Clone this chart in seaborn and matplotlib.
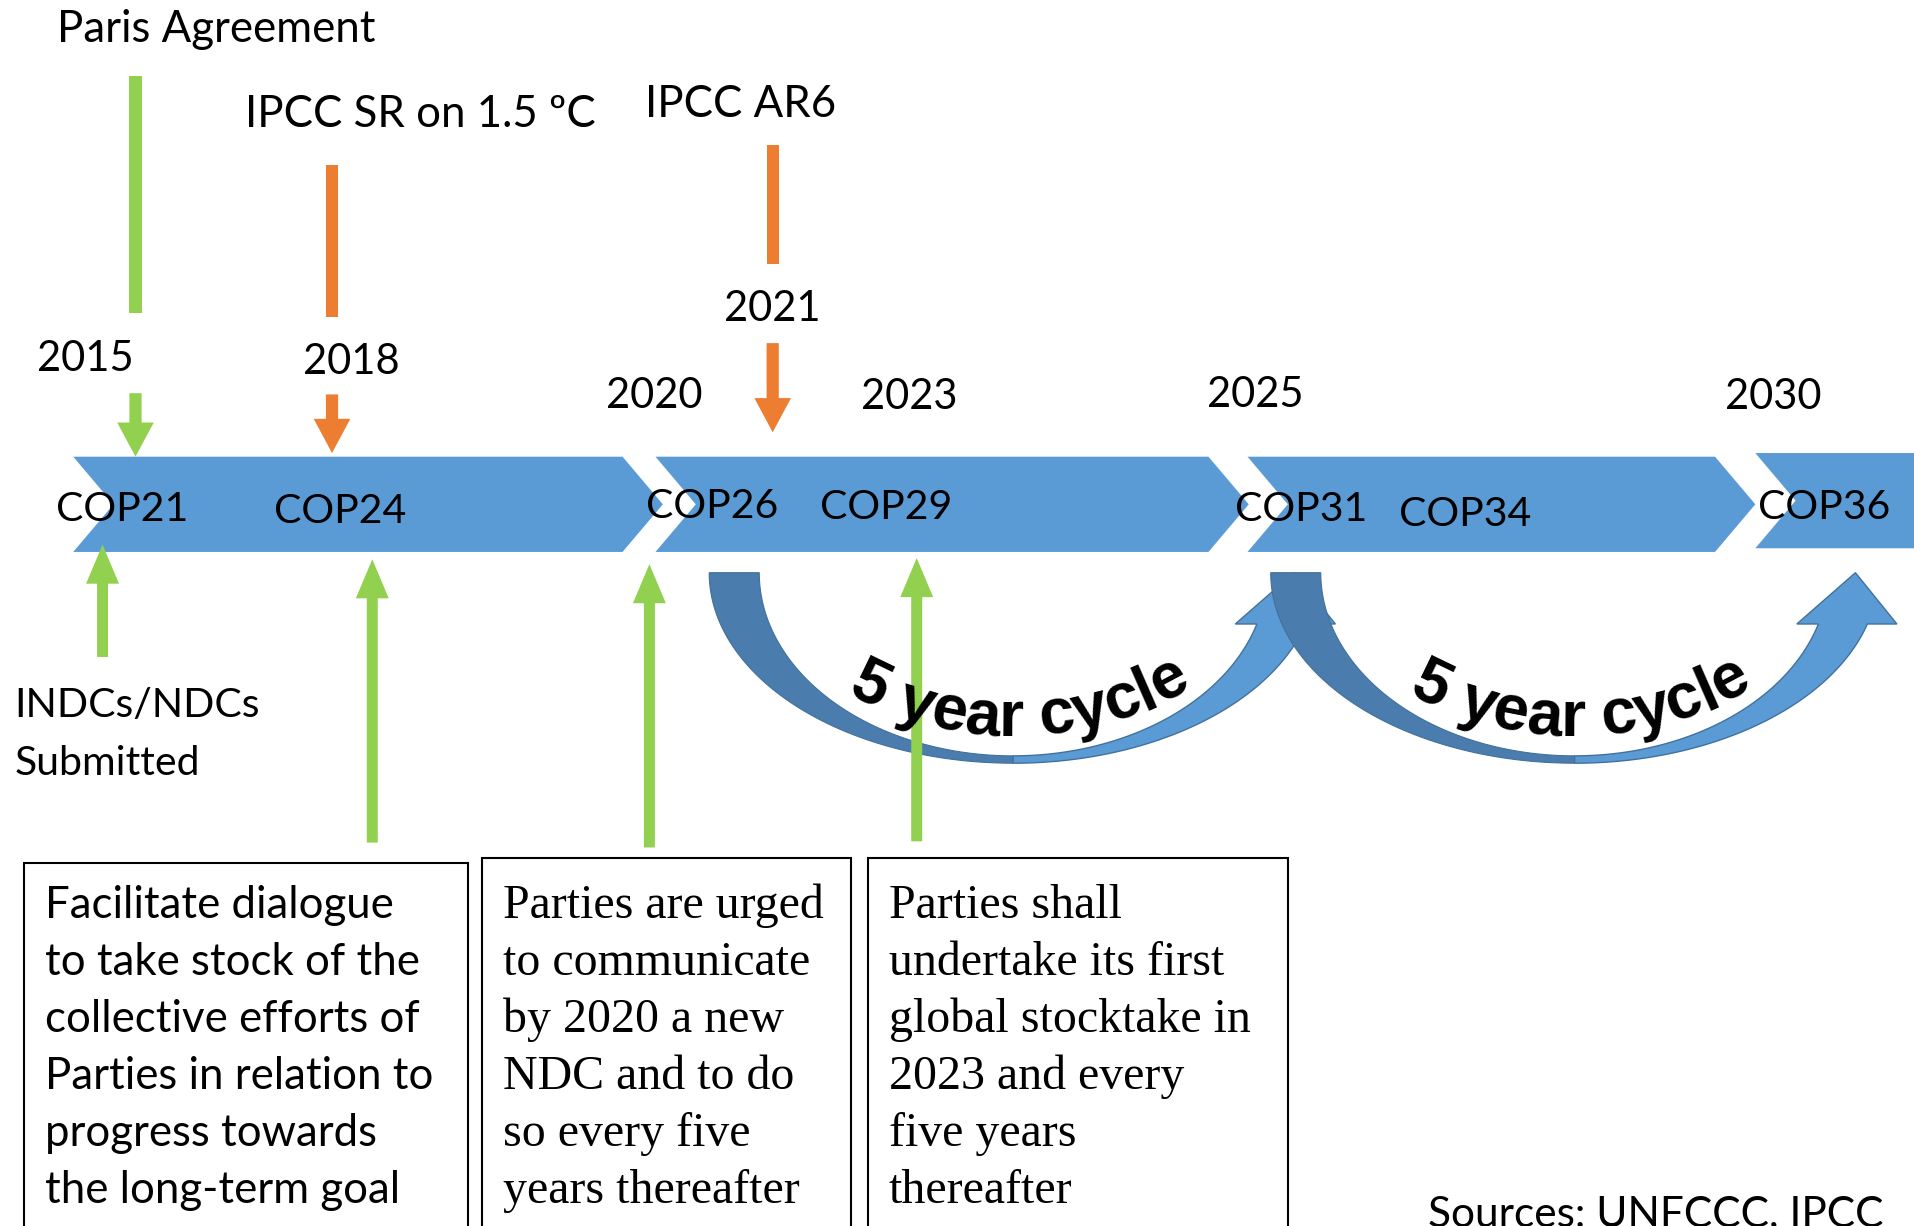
import numpy as np
import matplotlib
matplotlib.use("Agg")
import matplotlib.pyplot as plt
import seaborn as sns
from matplotlib.patches import Polygon, Rectangle
from matplotlib.font_manager import FontProperties, findfont, get_font

sns.set_theme(style="white")
plt.rcParams["font.family"] = ["Lato", "DejaVu Sans"]

# ---- content ----
event_names = ["Paris Agreement", "IPCC SR on 1.5 ºC", "IPCC AR6"]
event_colors = ["#92D050", "#ED7D31", "#ED7D31"]
year_labels = ["2015", "2018", "2020", "2021", "2023", "2025", "2030"]
cop_labels = ["COP21", "COP24", "COP26", "COP29", "COP31", "COP34", "COP36"]
ndc_label = ["INDCs/NDCs", "Submitted"]
note_gst = ["Facilitate dialogue", "to take stock of the", "collective efforts of",
            "Parties in relation to", "progress towards", "the long-term goal"]
note_ndc = ["Parties are urged", "to communicate", "by 2020 a new",
            "NDC and to do", "so every five", "years thereafter"]
note_stocktake = ["Parties shall", "undertake its first", "global stocktake in",
                  "2023 and every", "five years", "thereafter"]
cycle_label = "5 year cycle"
source_label = "Sources: UNFCCC, IPCC"

# ---- layout (canvas units, y downwards) ----
W, H = 1568, 1004
BLUE = "#5B9BD5"
DARK = "#4A7CAD"
GREEN = "#92D050"

event_pos = [(177, 34), (344, 104), (607, 96)]
event_lines = [(111, 62, 256), (272, 135, 260), (633, 119, 216)]
event_heads = [(111, 322, 374), (272, 323, 371), (633, 281, 354)]
year_pos = [(70, 304), (288, 306), (536, 334), (633, 263), (745, 335), (1028, 333), (1453, 335)]
cop_pos = [(100, 427), (279, 428), (583, 424), (726, 425), (1066, 427), (1200, 431), (1494, 425)]
chevrons = [(60, 510, 374, 452, True), (537, 990, 374, 452, True),
            (1022, 1405, 374, 452, True), (1438, 1600, 371, 449, False)]
up_arrows = [(84, 538, 446), (305, 690, 458), (532, 694, 462), (751, 689, 457)]
boxes = [(20, 707, 383), (395, 703, 697), (711, 703, 1055)]
cycle_centers = [830, 1290]

fig = plt.figure(figsize=(19.14, 12.26), dpi=100)
ax = fig.add_axes([0, 0, 1, 1])
ax.set_xlim(0, W)
ax.set_ylim(H, 0)
ax.axis("off")

# chevrons
notch = 33
for xl, xr, yt, yb, tip in chevrons:
    ym = (yt + yb) / 2
    pts = [(xl, yt), (xr, yt)]
    pts += [(xr + notch, ym), (xr, yb)] if tip else [(xr, yb)]
    pts += [(xl, yb), (xl + notch, ym)]
    ax.add_patch(Polygon(pts, closed=True, fc=BLUE, ec="none", zorder=1))

# curved "5 year cycle" arrows
y0 = 469
ao, bo, ai, bi = 249, 156, 208, 150
for cx in cycle_centers:
    t = np.linspace(np.pi, np.pi / 2, 80)
    outer = np.c_[cx + ao * np.cos(t), y0 + bo * np.sin(t)]
    inner = np.c_[cx + ai * np.cos(t[::-1]), y0 + bi * np.sin(t[::-1])]
    ax.add_patch(Polygon(np.r_[outer, inner], closed=True, fc=DARK, ec="#41719C",
                         lw=0.8, zorder=2))
    to = np.linspace(np.pi / 2, np.arcsin(42 / bo), 80)
    ti = np.linspace(np.arcsin(42 / bi), np.pi / 2, 80)
    outer = np.c_[cx + ao * np.cos(to), y0 + bo * np.sin(to)]
    inner = np.c_[cx + ai * np.cos(ti), y0 + bi * np.sin(ti)]
    head = np.array([[cx + 264, y0 + 42], [cx + 230, y0], [cx + 182, y0 + 42]])
    ax.add_patch(Polygon(np.r_[outer, head, inner], closed=True, fc=BLUE, ec="#41719C",
                         lw=1.0, zorder=2))

# curved text along an arc
CFS = 46
fp = FontProperties(family="Liberation Sans", weight="bold", size=CFS)
font = get_font(findfont(fp))
font.set_size(CFS, 100)
scale = 1914 / W
adv = [font.load_char(ord(c)).linearHoriAdvance / 65536 / scale for c in cycle_label]
R = 285
L = sum(adv)
for cx in cycle_centers:
    cy = 603 - R
    s = -L / 2
    for c, a in zip(cycle_label, adv):
        phi = (s + a / 2) / R + 0.02
        ax.text(cx + R * np.sin(phi), cy + R * np.cos(phi), c, fontproperties=fp,
                ha="center", va="baseline", rotation=np.degrees(phi),
                rotation_mode="anchor", color="black", zorder=5)
        s += a

# event lines and arrows
for (x, ya, yb), col in zip(event_lines, event_colors):
    ax.add_patch(Rectangle((x - 5, ya), 10, yb - ya, fc=col, ec="none", zorder=3))
for (x, ya, yb), col in zip(event_heads, event_colors):
    ax.arrow(x, ya, 0, yb - ya, width=10, head_width=30, head_length=28,
             length_includes_head=True, fc=col, ec="none", zorder=3)
for x, ya, yb in up_arrows:
    ax.arrow(x, ya, 0, yb - ya, width=9, head_width=27, head_length=32,
             length_includes_head=True, fc=GREEN, ec="none", zorder=3)

FS = 30
for name, (x, y) in zip(event_names, event_pos):
    ax.text(x, y, name, fontsize=31.5, ha="center", va="baseline", color="black")
for lab, (x, y) in zip(year_labels, year_pos):
    ax.text(x, y, lab, fontsize=FS, ha="center", va="baseline", color="black")
for lab, (x, y) in zip(cop_labels, cop_pos):
    ax.text(x, y, lab, fontsize=29.5, ha="center", va="baseline", color="black", zorder=4)
for i, lab in enumerate(ndc_label):
    ax.text(12, 587 + 48 * i, lab, fontsize=29.5, ha="left", va="baseline", color="black")

# note boxes
for (xl, yt, xr), lines, serif in zip(boxes, [note_gst, note_ndc, note_stocktake],
                                      [False, True, True]):
    ax.add_patch(Rectangle((xl, yt), xr - xl, H + 20 - yt, fc="white", ec="black",
                           lw=1.5, zorder=2))
    for i, ln in enumerate(lines):
        kw = dict(family="Liberation Serif", fontsize=34.5) if serif else dict(fontsize=31.5)
        ax.text(xl + 17, 752 + 46.7 * i, ln, ha="left", va="baseline",
                color="black", zorder=4, **kw)

ax.text(1543, 1004, source_label, fontsize=30.5, ha="right", va="baseline", color="black")

fig.savefig("out.png", dpi=100)
